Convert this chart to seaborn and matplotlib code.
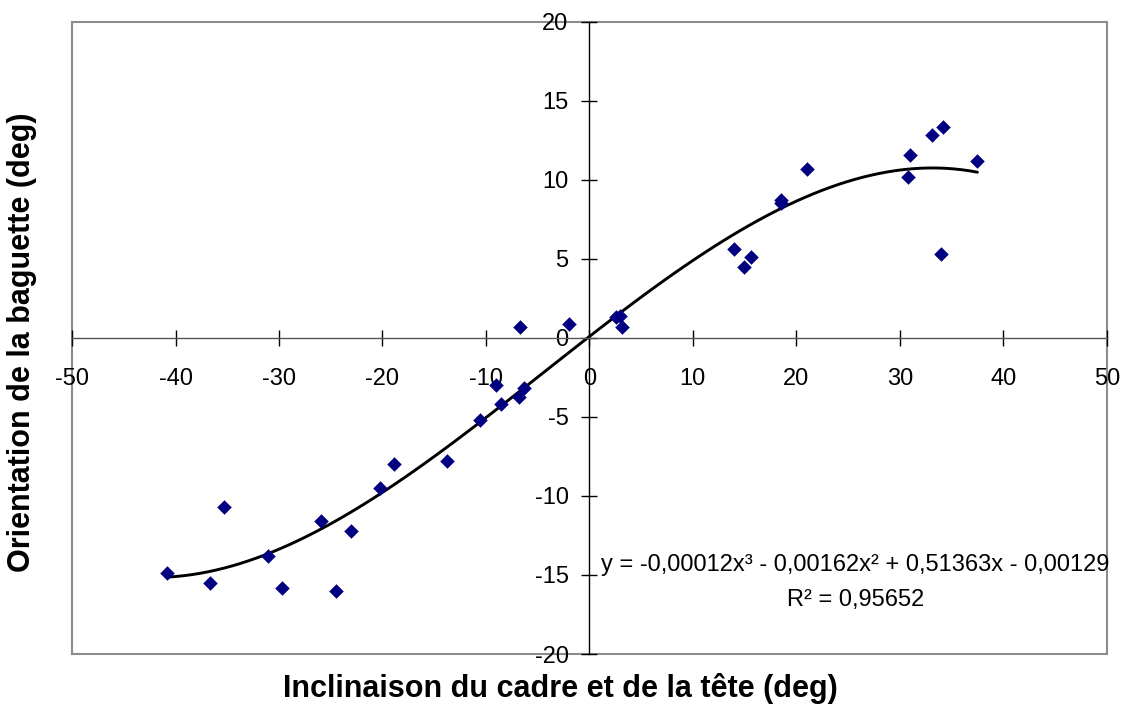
"""Inclinaison du cadre vs orientation de la baguette, cubic trend."""
import numpy as np
import pandas as pd
import matplotlib
matplotlib.use('Agg')
import matplotlib.pyplot as plt
from matplotlib.patches import Rectangle
import seaborn as sns

# data
inclinaison = [-40.8, -36.7, -35.3, -31.1, -29.7, -25.9, -24.5, -23.0, -20.2, -18.9,
               -13.8, -10.6, -9.0, -8.5, -6.8, -6.3, -6.7, -2.0,
               2.6, 3.0, 3.2, 14.0, 14.9, 15.6, 18.5, 18.5, 21.0,
               30.8, 31.0, 33.1, 34.0, 34.2, 37.5]
orientation = [-14.9, -15.5, -10.7, -13.8, -15.8, -11.6, -16.0, -12.2, -9.5, -8.0,
               -7.8, -5.2, -3.0, -4.2, -3.75, -3.2, 0.7, 0.9,
               1.3, 1.4, 0.7, 5.6, 4.5, 5.1, 8.7, 8.55, 10.7,
               10.2, 11.55, 12.85, 5.3, 13.35, 11.2]

x_ticks = [-50, -40, -30, -20, -10, 0, 10, 20, 30, 40, 50]
y_ticks = [-20, -15, -10, -5, 0, 5, 10, 15, 20]

equation = "y = -0,00012x³ - 0,00162x² + 0,51363x - 0,00129"
r2_text = "R² = 0,95652"

sns.set_style("white")
plt.rcParams['font.family'] = ['Liberation Sans', 'DejaVu Sans']
plt.rcParams['axes.unicode_minus'] = False
plt.rcParams['text.color'] = 'black'
plt.rcParams['axes.labelcolor'] = 'black'
plt.rcParams['xtick.color'] = 'black'
plt.rcParams['ytick.color'] = 'black'

df = pd.DataFrame({"x": inclinaison, "y": orientation})

fig = plt.figure(figsize=(11.22, 7.18), dpi=100)
ax = fig.add_axes([0.0642, 0.0891, 0.9222, 0.8807])

sns.regplot(data=df, x="x", y="y", order=3, ci=None, scatter=False, truncate=True,
            line_kws=dict(color="black", lw=2.1), ax=ax)
sns.scatterplot(data=df, x="x", y="y", marker="D", color="#000080", s=55,
                linewidth=0, ax=ax, zorder=3)

ax.set_xlim(-50, 50)
ax.set_ylim(-20, 20)
ax.set_xticks(x_ticks)
ax.set_yticks(y_ticks)

# axes crossing at zero, Excel style
ax.spines['left'].set_position(('data', 0))
ax.spines['bottom'].set_position(('data', 0))
ax.spines['left'].set_color('black')
ax.spines['bottom'].set_color('#555555')
ax.spines['left'].set_linewidth(1.0)
ax.spines['bottom'].set_linewidth(1.0)
ax.spines['top'].set_visible(False)
ax.spines['right'].set_visible(False)
ax.add_patch(Rectangle((0, 0), 1, 1, transform=ax.transAxes, fill=False,
                       edgecolor='#8c8c8c', lw=1.5, clip_on=False, zorder=0))

ax.tick_params(axis='both', direction='inout', length=12, width=1, color='black',
               labelsize=17, labelcolor='black', left=True, bottom=True)
ax.tick_params(axis='x', pad=16)
ax.tick_params(axis='y', pad=9)

ax.set_xlabel("Inclinaison du cadre et de la tête (deg)", fontsize=22, fontweight="bold")
ax.set_ylabel("Orientation de la baguette (deg)", fontsize=22, fontweight="bold")
ax.xaxis.set_label_coords(0.4716, -0.054)
ax.xaxis.label.set_va('center')
ax.yaxis.set_label_coords(-0.048, 0.4934)
ax.yaxis.label.set_va('center')

ax.text(25.7, -14.4, equation, fontsize=17, ha='center', va='center')
ax.text(25.7, -16.6, r2_text, fontsize=17, ha='center', va='center')

fig.savefig("out.png", dpi=100)
plt.close(fig)
